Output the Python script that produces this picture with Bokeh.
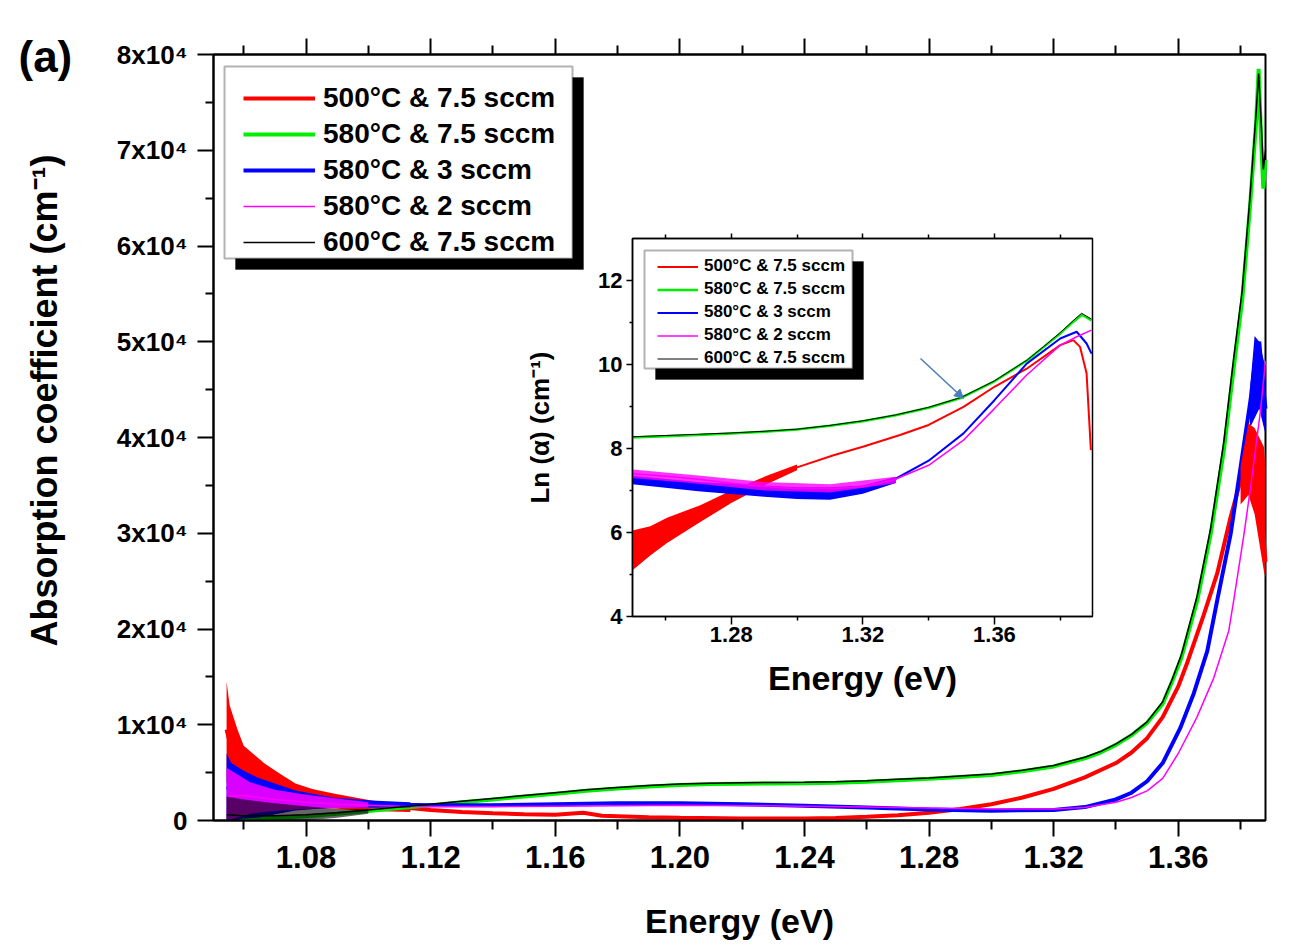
import math
from bokeh.plotting import figure
from bokeh.models import (Range1d, LinearAxis, FixedTicker, CustomJSTickFormatter, Legend,
                          LegendItem, BoxAnnotation, Label, Arrow, NormalHead)
from bokeh.embed import file_html
from bokeh.resources import INLINE

FONT = "Liberation Sans"

# ---------------- data ----------------
SERIES = ["500°C & 7.5 sccm", "580°C & 7.5 sccm", "580°C & 3 sccm",
          "580°C & 2 sccm", "600°C & 7.5 sccm"]
COLORS = ["#ff0000", "#00ee00", "#0000ff", "#ff00ff", "#000000"]

# main panel: absorption coefficient (cm^-1) vs energy (eV)
E_RED = [1.0545, 1.056, 1.058, 1.060, 1.065, 1.070, 1.075, 1.080, 1.090, 1.100, 1.110, 1.120,
         1.130, 1.140, 1.150, 1.160, 1.169, 1.175, 1.190, 1.200, 1.220, 1.240, 1.250, 1.260,
         1.270, 1.280, 1.290, 1.300, 1.310, 1.320, 1.330, 1.340, 1.345, 1.350, 1.355, 1.360,
         1.3629, 1.3682, 1.3725, 1.3768, 1.3800, 1.3832, 1.3850, 1.3865, 1.3880]
A_RED = [9500, 7500, 6000, 5000, 4000, 3400, 3000, 2600, 2100, 1700, 1400, 1100,
         900, 750, 650, 600, 800, 500, 350, 300, 220, 220, 270, 380,
         550, 800, 1200, 1700, 2400, 3300, 4500, 6000, 7100, 8600, 10800, 14000,
         16500, 21500, 25800, 31700, 35500, 40000, 38000, 33000, 27000]
E_RED_BAND = [1.0545, 1.0555, 1.058, 1.060, 1.0667, 1.072, 1.0766, 1.082, 1.0888, 1.101, 1.1135]
RED_BAND_HI = [14500, 12000, 9500, 7800, 5950, 4800, 3860, 3300, 2820, 2090, 1570]
RED_BAND_LO = [4000, 3000, 2600, 2200, 1900, 1700, 1600, 1400, 1250, 1000, 900]
E_RED_PEAK = [1.380, 1.3825, 1.3845, 1.386, 1.3875, 1.388]
RED_PEAK_HI = [37000, 41500, 41000, 40000, 39000, 37000]
RED_PEAK_LO = [33000, 34000, 32000, 29000, 26000, 25400]

E_GRN = [1.0545, 1.060, 1.070, 1.080, 1.090, 1.100, 1.110, 1.120, 1.130, 1.140, 1.150, 1.160,
         1.170, 1.180, 1.190, 1.200, 1.210, 1.220, 1.230, 1.240, 1.250, 1.260, 1.270, 1.280,
         1.290, 1.300, 1.310, 1.320, 1.330, 1.335, 1.340, 1.345, 1.350, 1.355, 1.358, 1.361,
         1.3661, 1.3704, 1.3746, 1.3778, 1.3805, 1.3830, 1.3850, 1.3858, 1.3866, 1.3873, 1.3880]
A_GRN = [200, 200, 300, 450, 700, 1000, 1300, 1600, 1900, 2200, 2500, 2800,
         3100, 3350, 3550, 3700, 3800, 3850, 3870, 3900, 3950, 4050, 4200, 4350,
         4550, 4750, 5150, 5650, 6500, 7100, 7900, 8900, 10200, 12200, 14500, 17000,
         23000, 29900, 38600, 47300, 54300, 64000, 73000, 78500, 71000, 66000, 69000]

E_BLU = [1.0545, 1.060, 1.065, 1.070, 1.080, 1.090, 1.100, 1.110, 1.120, 1.140, 1.160, 1.180,
         1.200, 1.220, 1.240, 1.260, 1.280, 1.300, 1.320, 1.330, 1.340, 1.345, 1.350, 1.355,
         1.3607, 1.365, 1.3693, 1.3725, 1.3768, 1.3800, 1.3832, 1.3850, 1.3860, 1.3870, 1.3880]
A_BLU = [3500, 3000, 2700, 2400, 2100, 1900, 1750, 1650, 1600, 1600, 1700, 1800,
         1800, 1700, 1550, 1350, 1150, 1030, 1100, 1400, 2200, 2900, 4100, 6000,
         9700, 13300, 17700, 23000, 29900, 36900, 43900, 49000, 50000, 46000, 43000]
E_BLU_BAND = [1.0545, 1.056, 1.060, 1.0644, 1.0766, 1.0888, 1.101, 1.1135]
BLU_BAND_HI = [7000, 6000, 5200, 4500, 3130, 2400, 2100, 1900]
BLU_BAND_LO = [0, 0, 200, 300, 1040, 1360, 1360, 1360]
E_BLU_PEAK = [1.383, 1.3845, 1.386, 1.3875, 1.388]
BLU_PEAK_HI = [45000, 50600, 50000, 48000, 47000]
BLU_PEAK_LO = [41000, 42000, 43000, 41000, 40400]

E_MAG = [1.0545, 1.060, 1.065, 1.070, 1.080, 1.090, 1.100, 1.110, 1.120, 1.140, 1.160, 1.180,
         1.200, 1.220, 1.240, 1.260, 1.280, 1.300, 1.320, 1.330, 1.340, 1.345, 1.350, 1.355,
         1.360, 1.366, 1.3714, 1.3762, 1.3778, 1.3811, 1.3832, 1.3864, 1.3880]
A_MAG = [2500, 2600, 2400, 2200, 1900, 1700, 1600, 1500, 1450, 1450, 1500, 1550,
         1600, 1550, 1500, 1400, 1300, 1200, 1200, 1350, 1900, 2400, 3100, 4400,
         7000, 10800, 14900, 19800, 23000, 29900, 34800, 42800, 48000]
E_MAG_BAND = [1.0545, 1.058, 1.062, 1.070, 1.080, 1.090, 1.100]
MAG_BAND_HI = [5500, 4800, 4000, 3200, 2700, 2300, 1900]
MAG_BAND_LO = [0, 300, 700, 1000, 1200, 1300, 1350]

E_BLK = [1.0545, 1.060, 1.070, 1.080, 1.090, 1.100, 1.110, 1.120, 1.130, 1.140, 1.150, 1.160,
         1.170, 1.180, 1.190, 1.200, 1.210, 1.220, 1.230, 1.240, 1.250, 1.260, 1.270, 1.280,
         1.290, 1.300, 1.310, 1.320, 1.330, 1.335, 1.340, 1.345, 1.350, 1.355, 1.358, 1.361,
         1.3661, 1.3704, 1.3746, 1.3778, 1.3805, 1.3830, 1.3850, 1.3858, 1.3866, 1.3873, 1.3880]
A_BLK = [600, 500, 500, 600, 800, 1100, 1400, 1700, 2000, 2300, 2600, 2900,
         3200, 3450, 3650, 3800, 3900, 3950, 3970, 4000, 4050, 4150, 4300, 4450,
         4650, 4850, 5250, 5750, 6600, 7200, 8000, 9000, 10300, 12400, 14700, 17300,
         23500, 30500, 39500, 48300, 55300, 65000, 74000, 78000, 73000, 68000, 70000]
E_BLK_BAND = [1.0545, 1.060, 1.070, 1.080, 1.090, 1.100]
BLK_BAND_HI = [2500, 2200, 1800, 1500, 1200, 1200]
BLK_BAND_LO = [0, 0, 0, 0, 300, 700]

# main axis ticks
X_TICKS = [1.08, 1.12, 1.16, 1.20, 1.24, 1.28, 1.32, 1.36]
X_MINOR = [1.06, 1.10, 1.14, 1.18, 1.22, 1.26, 1.30, 1.34, 1.38]
Y_TICKS = [0, 10000, 20000, 30000, 40000, 50000, 60000, 70000, 80000]
Y_TICK_LABELS = ["0", "1x10⁴", "2x10⁴", "3x10⁴", "4x10⁴", "5x10⁴", "6x10⁴", "7x10⁴", "8x10⁴"]
Y_MINOR = [5000, 15000, 25000, 35000, 45000, 55000, 65000, 75000]

# inset: Ln(alpha) vs energy
I_E_GRN = [1.2500, 1.2600, 1.2700, 1.2800, 1.2900, 1.3000, 1.3100, 1.3200, 1.3300, 1.3400,
           1.3500, 1.3600, 1.3700, 1.3750, 1.3800, 1.3840, 1.3865, 1.3880, 1.3895]
I_GRN = [8.26, 8.29, 8.32, 8.36, 8.40, 8.45, 8.54, 8.65, 8.79, 8.97,
         9.21, 9.60, 10.10, 10.42, 10.74, 11.02, 11.18, 11.12, 11.05]
I_BLK = [8.28, 8.31, 8.34, 8.37, 8.41, 8.46, 8.55, 8.66, 8.80, 8.98,
         9.22, 9.61, 10.11, 10.43, 10.76, 11.05, 11.22, 11.15, 11.08]
I_E_RED = [1.2500, 1.2554, 1.2605, 1.2655, 1.2706, 1.2756, 1.2800, 1.2858, 1.2908, 1.3000,
           1.3111, 1.3200, 1.3313, 1.3400, 1.3506, 1.3600, 1.3698, 1.3800, 1.3840, 1.3860,
           1.3880, 1.3888, 1.3893]
I_RED = [5.62, 5.82, 6.06, 6.25, 6.45, 6.65, 6.85, 7.09, 7.25, 7.55,
         7.84, 8.04, 8.32, 8.56, 8.99, 9.47, 9.90, 10.46, 10.58, 10.42,
         9.79, 8.67, 7.96]
I_E_RED_BAND = [1.2500, 1.2554, 1.2605, 1.2706, 1.2800, 1.2908, 1.3000]
I_RED_HI = [6.05, 6.15, 6.35, 6.65, 7.00, 7.35, 7.62]
I_RED_LO = [5.10, 5.45, 5.75, 6.25, 6.70, 7.15, 7.48]
I_E_BLU = [1.2500, 1.2605, 1.2706, 1.2800, 1.2908, 1.3000, 1.3111, 1.3200, 1.3293, 1.3400,
           1.3506, 1.3600, 1.3698, 1.3800, 1.3850, 1.3880, 1.3895]
I_BLU = [7.25, 7.18, 7.09, 7.02, 6.99, 6.94, 6.93, 7.02, 7.25, 7.71,
         8.36, 9.15, 10.02, 10.62, 10.78, 10.50, 10.26]
I_E_BLU_BAND = [1.25, 1.27, 1.29, 1.30, 1.31, 1.32, 1.33]
I_BLU_HI = [7.35, 7.20, 7.12, 7.08, 7.08, 7.12, 7.32]
I_BLU_LO = [7.15, 6.98, 6.85, 6.80, 6.78, 6.92, 7.18]
I_E_MAG = [1.2500, 1.2605, 1.2706, 1.2800, 1.2908, 1.3000, 1.3111, 1.3200, 1.3293, 1.3400,
           1.3506, 1.3600, 1.3698, 1.3800, 1.3850, 1.3895]
I_MAG = [7.40, 7.34, 7.26, 7.17, 7.09, 7.05, 7.05, 7.09, 7.25, 7.60,
         8.20, 8.95, 9.75, 10.46, 10.66, 10.82]
I_E_MAG_BAND = [1.25, 1.27, 1.29, 1.31, 1.33]
I_MAG_HI = [7.50, 7.36, 7.20, 7.15, 7.33]
I_MAG_LO = [7.30, 7.16, 7.00, 6.95, 7.17]

IX_TICKS = [1.28, 1.32, 1.36]
IX_MINOR = [1.26, 1.30, 1.34, 1.38]
IY_TICKS = [4, 6, 8, 10, 12]
IY_MINOR = [5, 7, 9, 11]

# ---------------- layout (pixels) ----------------
W, H = 1293, 947
FL, FR, FT, FB = 213, 1265, 54, 820          # main plot box
IL, IR, IT, IB = 632, 1092, 238, 616         # inset plot box
X0, X1, Y0, Y1 = 1.0503, 1.388, 0, 80000
IX0, IX1, IY0, IY1 = 1.25, 1.3898, 4, 13

KXM = (X1 - X0) / (FR - FL)
KYM = (Y1 - Y0) / (FB - FT)
KX = (IX1 - IX0) / (IR - IL)
KY = (IY1 - IY0) / (IB - IT)


def px2x(px):
    return X0 + (px - FL) * KXM


def py2y(py):
    return Y1 - (py - FT) * KYM


def ipx2x(px):
    return IX0 + (px - IL) * KX


def ipy2y(py):
    return IY1 - (py - IT) * KY


# the frame spans the whole canvas; both plot boxes are drawn inside it
p = figure(width=W, height=H, min_border=0,
           x_range=Range1d(px2x(0), px2x(W)), y_range=Range1d(py2y(H), py2y(0)),
           x_axis_location=None, y_axis_location=None,
           output_backend="svg", toolbar_location=None)
p.extra_x_ranges = {"ix": Range1d(ipx2x(0), ipx2x(W))}
p.extra_y_ranges = {"iy": Range1d(ipy2y(H), ipy2y(0))}
p.xgrid.visible = False
p.ygrid.visible = False
p.outline_line_color = None
p.background_fill_color = "white"
p.border_fill_color = "white"


def style_axis(ax, lab_size, tick_out, minor_out, standoff, lw=2):
    ax.axis_line_width = lw
    ax.major_tick_line_width = lw
    ax.minor_tick_line_width = lw
    ax.major_tick_in = 0
    ax.minor_tick_in = 0
    ax.major_tick_out = tick_out
    ax.minor_tick_out = minor_out
    ax.major_label_text_font = FONT
    ax.major_label_text_font_style = "bold"
    ax.major_label_text_font_size = lab_size
    ax.major_label_text_color = "black"
    ax.major_label_standoff = standoff
    ax.axis_label_text_font = FONT
    ax.axis_label_text_font_style = "bold"
    ax.axis_label_text_color = "black"


fmt2 = CustomJSTickFormatter(code="return tick.toFixed(2);")

# ---------------- main box outline + axes ----------------
p.quad(left=[X0], right=[X1], bottom=[Y0], top=[Y1], fill_color=None,
       line_color="black", line_width=2)

xt = FixedTicker(ticks=X_TICKS, minor_ticks=X_MINOR)
xb = LinearAxis(ticker=xt, formatter=fmt2, axis_label="Energy (eV)",
                fixed_location=Y0, bounds=(X0, X1))
style_axis(xb, "31px", 16, 9, 9)
xb.axis_label_text_font_size = "34px"
xb.axis_label_standoff = 31
p.add_layout(xb, "below")

xa = LinearAxis(ticker=xt, formatter=fmt2, fixed_location=Y1, bounds=(X0, X1))
style_axis(xa, "31px", 16, 9, 5)
xa.major_label_text_color = None
p.add_layout(xa, "above")

yfmt = CustomJSTickFormatter(args=dict(yvals=Y_TICKS, ylabs=Y_TICK_LABELS),
                             code="const k = yvals.indexOf(tick); return k >= 0 ? ylabs[k] : '';")
yl = LinearAxis(ticker=FixedTicker(ticks=Y_TICKS, minor_ticks=Y_MINOR), formatter=yfmt,
                fixed_location=X0, bounds=(Y0, Y1))
style_axis(yl, "26px", 16, 8, 10)
p.add_layout(yl, "left")

# ---------------- main curves ----------------
p.varea(x=E_RED_BAND, y1=RED_BAND_LO, y2=RED_BAND_HI, fill_color=COLORS[0])
r_red = p.line(E_RED, A_RED, line_color=COLORS[0], line_width=4)
r_grn = p.line(E_GRN, A_GRN, line_color=COLORS[1], line_width=4)
p.varea(x=E_BLU_BAND, y1=BLU_BAND_LO, y2=BLU_BAND_HI, fill_color=COLORS[2])
p.varea(x=E_BLU_PEAK, y1=BLU_PEAK_LO, y2=BLU_PEAK_HI, fill_color=COLORS[2])
r_blu = p.line(E_BLU, A_BLU, line_color=COLORS[2], line_width=4)
p.varea(x=E_RED_PEAK, y1=RED_PEAK_LO, y2=RED_PEAK_HI, fill_color=COLORS[0])
p.varea(x=E_MAG_BAND, y1=MAG_BAND_LO, y2=MAG_BAND_HI, fill_color=COLORS[3], fill_alpha=0.85)
r_mag = p.line(E_MAG, A_MAG, line_color=COLORS[3], line_width=1.5)
p.varea(x=E_BLK_BAND, y1=BLK_BAND_LO, y2=BLK_BAND_HI, fill_color=COLORS[4], fill_alpha=0.6)
r_blk = p.line(E_BLK, A_BLK, line_color=COLORS[4], line_width=1.5)
main_renderers = [r_red, r_grn, r_blu, r_mag, r_blk]

# ---------------- inset ----------------
INS = dict(x_range_name="ix", y_range_name="iy")
p.quad(left=[IX0], right=[IX1], bottom=[IY0], top=[IY1], fill_color="white",
       line_color="black", line_width=1.5, **INS)
p.varea(x=I_E_RED_BAND, y1=I_RED_LO, y2=I_RED_HI, fill_color=COLORS[0], **INS)
i_red = p.line(I_E_RED, I_RED, line_color=COLORS[0], line_width=2, **INS)
i_grn = p.line(I_E_GRN, I_GRN, line_color=COLORS[1], line_width=2.5, **INS)
p.varea(x=I_E_BLU_BAND, y1=I_BLU_LO, y2=I_BLU_HI, fill_color=COLORS[2], **INS)
i_blu = p.line(I_E_BLU, I_BLU, line_color=COLORS[2], line_width=2, **INS)
p.varea(x=I_E_MAG_BAND, y1=I_MAG_LO, y2=I_MAG_HI, fill_color=COLORS[3], fill_alpha=0.8, **INS)
i_mag = p.line(I_E_MAG, I_MAG, line_color=COLORS[3], line_width=1.5, **INS)
i_blk = p.line(I_E_GRN, I_BLK, line_color=COLORS[4], line_width=1, **INS)
inset_renderers = [i_red, i_grn, i_blu, i_mag, i_blk]

ib = LinearAxis(ticker=FixedTicker(ticks=IX_TICKS, minor_ticks=IX_MINOR), formatter=fmt2,
                fixed_location=IY0, bounds=(IX0, IX1), axis_label="Energy (eV)", **INS)
style_axis(ib, "22px", 8, 4, 2, lw=1.5)
ib.axis_label_text_font_size = "34px"
ib.axis_label_standoff = 14
p.add_layout(ib, "below")

it = LinearAxis(ticker=FixedTicker(ticks=IX_TICKS, minor_ticks=IX_MINOR), formatter=fmt2,
                fixed_location=IY1, bounds=(IX0, IX1), **INS)
style_axis(it, "22px", 5, 4, 2, lw=1.5)
it.major_label_text_color = None
p.add_layout(it, "above")

il = LinearAxis(ticker=FixedTicker(ticks=IY_TICKS, minor_ticks=IY_MINOR),
                fixed_location=IX0, bounds=(IY0, IY1), axis_label="Ln (α) (cm⁻¹)", **INS)
style_axis(il, "22px", 6, 3, 4, lw=1.5)
il.axis_label_text_font_size = "26px"
il.axis_label_standoff = 40
p.add_layout(il, "left")

AC = "#4a7ebb"
p.add_layout(Arrow(x_start=ipx2x(920), y_start=ipy2y(358), x_end=ipx2x(963), y_end=ipy2y(398),
                   line_color=AC, line_width=1.5,
                   end=NormalHead(size=9, fill_color=AC, line_color=AC), **INS))

# ---------------- legends (box + shadow + items) ----------------
def legend_box(l, t, r, b, shadow):
    p.add_layout(BoxAnnotation(left=px2x(l + shadow), right=px2x(r + shadow),
                               top=py2y(t + shadow), bottom=py2y(b + shadow),
                               fill_color="black", fill_alpha=1, line_color="black"))
    p.add_layout(BoxAnnotation(left=px2x(l), right=px2x(r), top=py2y(t), bottom=py2y(b),
                               fill_color="white", fill_alpha=1, line_color="black",
                               line_width=2))


legend_box(224, 66, 572, 258, 11)
main_legend = Legend(items=[LegendItem(label=s, renderers=[r]) for s, r in zip(SERIES, main_renderers)],
                     location=(243, H - 258), padding=0, margin=0, spacing=4,
                     glyph_width=72, glyph_height=32, label_height=32, label_standoff=8,
                     label_text_font=FONT, label_text_font_style="bold", label_text_font_size="28px",
                     label_text_color="black", border_line_color=None, background_fill_alpha=0)
p.add_layout(main_legend)

legend_box(644, 250, 852, 368, 11)
inset_legend = Legend(items=[LegendItem(label=s, renderers=[r]) for s, r in zip(SERIES, inset_renderers)],
                      location=(657, H - 368), padding=0, margin=0, spacing=3,
                      glyph_width=41, glyph_height=19, label_height=19, label_standoff=6,
                      label_text_font=FONT, label_text_font_style="bold", label_text_font_size="17px",
                      label_text_color="black", border_line_color=None, background_fill_alpha=0)
p.add_layout(inset_legend)

# ---------------- free texts ----------------
p.add_layout(Label(x=px2x(44), y=py2y(400), text="Absorption coefficient (cm⁻¹)", angle=math.pi / 2,
                   text_align="center", text_baseline="alphabetic", text_font=FONT,
                   text_font_style="bold", text_font_size="36px", text_color="black"))
p.add_layout(Label(x=px2x(18), y=py2y(56), text="(a)", text_align="left", text_baseline="alphabetic",
                   text_font=FONT, text_font_style="bold", text_font_size="44px", text_color="black"))

open("out.html", "w").write(file_html(p, INLINE))
